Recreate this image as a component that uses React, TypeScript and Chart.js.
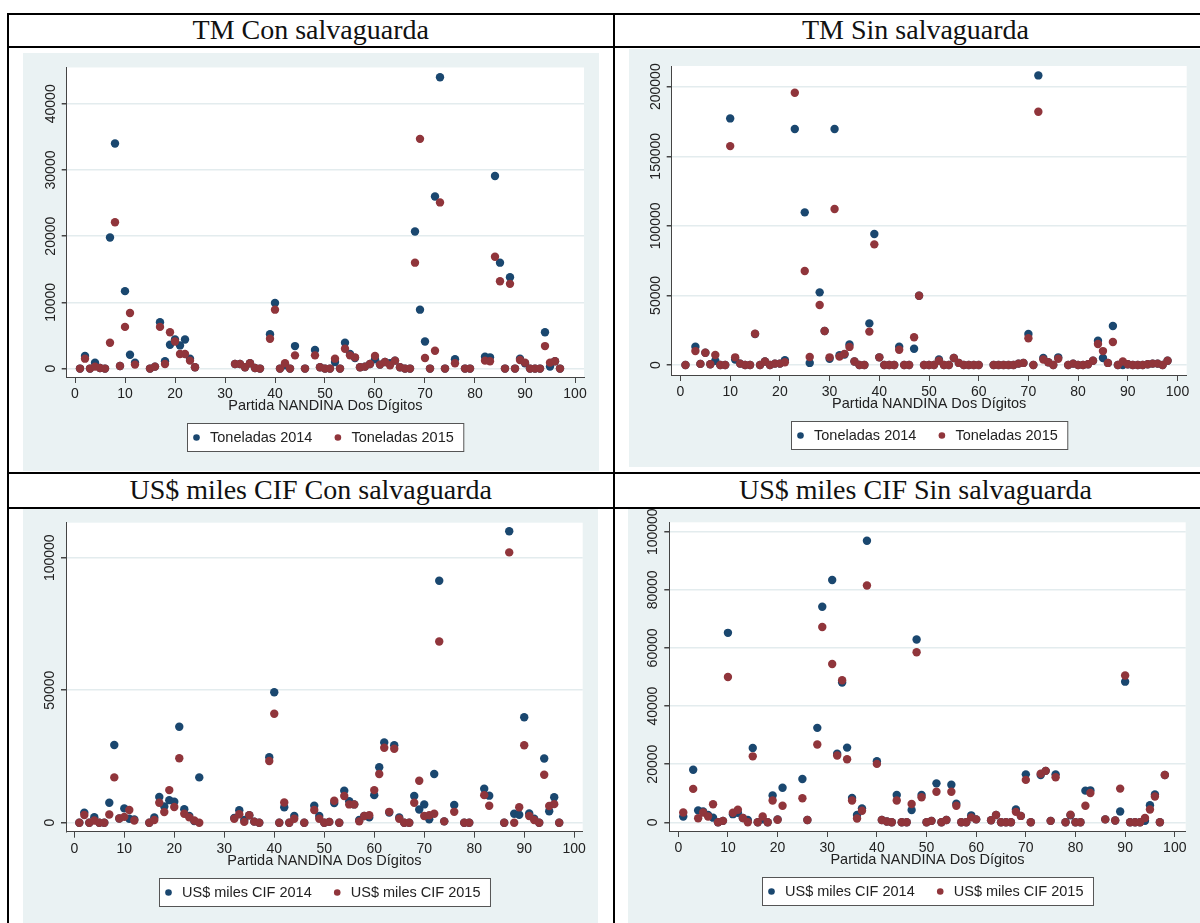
import React, { useEffect, useRef } from "react";
import { Chart, registerables } from "chart.js";

Chart.register(...registerables);

const _ = null;

// Partidas NANDINA (dos dígitos)
const chapters = [
  1, 2, 3, 4, 5, 6, 7, 8, 9, 10,
  11, 12, 13, 14, 15, 16, 17, 18, 19, 20,
  21, 22, 23, 24, 25, 26, 27, 28, 29, 30,
  31, 32, 33, 34, 35, 36, 37, 38, 39, 40,
  41, 42, 43, 44, 45, 46, 47, 48, 49, 50,
  51, 52, 53, 54, 55, 56, 57, 58, 59, 60,
  61, 62, 63, 64, 65, 66, 67, 68, 69, 70,
  71, 72, 73, 74, 75, 76, 77, 78, 79, 80,
  81, 82, 83, 84, 85, 86, 87, 88, 89, 90,
  91, 92, 93, 94, 95, 96, 97, 98,
];

const xTicks = [0, 10, 20, 30, 40, 50, 60, 70, 80, 90, 100];

// TM Con salvaguarda
const tmConTon2014 = [
  0, 1900, 0, 900, 100, 0, 19800, 34000, 400, 11700,
  2100, 900, _, _, 0, 300, 7000, 1100, 3600, 4400,
  3500, 4400, 1500, 200, _, _, _, _, _, _,
  _, 700, 700, 200, 800, 100, 0, _, 5200, 9900,
  0, 500, 0, 3400, _, 0, _, 2800, 200, 0,
  0, 1000, 0, 3900, 2200, 1600, 200, 300, 700, 1400,
  600, 1000, 800, 1200, 200, 0, 0, 20700, 8900, 4100,
  0, 26000, 44000, 0, _, 1400, _, 0, 0, _,
  _, 1800, 1700, 29100, 16000, 0, 13800, 0, 1500, 800,
  0, 0, 0, 5500, 300, 1100, 0, _,
];
const tmConTon2015 = [
  0, 1500, 0, 300, 100, 0, 3900, 22100, 400, 6300,
  8400, 600, _, _, 0, 300, 6300, 700, 5500, 4100,
  2200, 2200, 1200, 200, _, _, _, _, _, _,
  _, 700, 700, 200, 800, 100, 0, _, 4500, 8900,
  0, 800, 0, 2000, _, 0, _, 2000, 200, 0,
  0, 1500, 0, 3000, 2000, 1700, 200, 300, 700, 1900,
  600, 1000, 500, 1200, 200, 0, 0, 16000, 34700, 1600,
  0, 2700, 25100, 0, _, 800, _, 0, 0, _,
  _, 1200, 1100, 16900, 13200, 0, 12800, 0, 1300, 900,
  0, 0, 0, 3400, 900, 1100, 0, _,
];
const tmConYTicks = [0, 10000, 20000, 30000, 40000];

// TM Sin salvaguarda
const tmSinTon2014 = [
  0, _, 13200, 800, 8800, 500, 3000, 0, 0, 177200,
  4000, 1000, 0, 0, 22300, 0, 2500, 0, 1000, 1000,
  3500, _, 169600, _, 109700, 1500, _, 52200, 24400, 4500,
  169600, 7000, 7500, 14800, 2500, 0, 0, 29900, 94100, 5500,
  0, 0, 0, 13200, 0, 0, 11700, 49800, 0, 0,
  0, 4000, 0, 0, 5000, 1500, 0, 0, 0, 0,
  _, _, 0, 0, 0, 0, 0, 1000, 1500, 22300,
  0, 208100, 5000, 2000, 0, 5500, _, 0, 1000, 0,
  0, 500, 3000, 17500, 5000, 1500, 28000, 0, 0, 500,
  0, 0, 0, 500, 1000, 1000, 0, 3000,
];
const tmSinTon2015 = [
  0, _, 10000, 800, 8800, 500, 7200, 0, 0, 157300,
  5500, 1000, 0, 0, 22500, 0, 2500, 0, 1000, 1000,
  2000, _, 195700, _, 67500, 5700, _, 43100, 24400, 5500,
  112100, 6000, 8000, 13000, 2500, 0, 0, 24000, 86700, 5500,
  0, 0, 0, 11000, 0, 0, 19900, 49800, 0, 0,
  0, 3000, 0, 0, 5000, 1500, 0, 0, 0, 0,
  _, _, 0, 0, 0, 0, 0, 1000, 1500, 19200,
  0, 182000, 4000, 2000, 0, 4500, _, 0, 1000, 0,
  0, 500, 3000, 15100, 10000, 1500, 16500, 0, 2500, 500,
  0, 0, 0, 500, 1000, 1000, 0, 3000,
];
const tmSinYTicks = [0, 50000, 100000, 150000, 200000];

// US$ miles CIF Con salvaguarda
const usdCon2014 = [
  0, 3800, 0, 2100, 0, 0, 7500, 29300, 1600, 5400,
  1500, 1200, _, _, 0, 2000, 9700, 6100, 8500, 7900,
  36200, 5100, 2500, 600, 17100, _, _, _, _, _,
  _, 1800, 4700, 1000, 2800, 400, 0, _, 24700, 49200,
  0, 5800, 0, 2500, _, 0, _, 6400, 2500, 0,
  300, 7400, 0, 12100, 8100, 6900, 1000, 2500, 2000, 10400,
  20900, 30300, 3800, 29200, 2000, 0, 0, 10100, 5000, 6900,
  1300, 18400, 91300, 500, _, 6700, _, 0, 0, _,
  _, 12800, 10200, _, _, 0, 110000, 3400, 3000, 39800,
  3500, 1500, 0, 24200, 4300, 9600, 0, _,
];
const usdCon2015 = [
  0, 2900, 0, 800, 0, 0, 3100, 17100, 1600, 2200,
  4800, 800, _, _, 0, 1000, 7500, 4000, 12300, 5900,
  24300, 3400, 2000, 800, 0, _, _, _, _, _,
  _, 1500, 3200, 300, 2800, 400, 0, _, 23300, 41100,
  0, 7600, 0, 1500, _, 0, _, 4800, 1500, 0,
  300, 8300, 0, 10100, 6900, 6900, 500, 2500, 2800, 12300,
  18400, 28300, 4100, 27900, 1500, 0, 0, 7500, 15800, 2500,
  2800, 3400, 68400, 500, _, 4100, _, 0, 0, _,
  _, 10400, 6400, _, _, 0, 102000, 0, 5800, 29200,
  2500, 1000, 0, 18100, 6300, 7000, 0, _,
];
const usdConYTicks = [0, 50000, 100000];

// US$ miles CIF Sin salvaguarda
const usdSin2014 = [
  2000, _, 18100, 4100, 3700, 2500, 1600, 0, 500, 65200,
  2800, 3300, 1500, 800, 25600, 0, 1000, 0, 9200, 1000,
  11900, _, _, _, 14900, 800, _, 32500, 74200, _,
  83400, 23600, 48100, 25700, 8400, 2500, 4800, 96900, _, 21000,
  800, 300, 0, 9400, 0, 0, 4200, 62900, 9400, 0,
  500, 13400, 0, 800, 12900, 6400, 0, 0, 2400, 1000,
  _, _, 700, 2500, 0, 0, 0, 4400, 2200, 16500,
  0, _, 16300, 17700, 500, 16500, _, 0, 2400, 0,
  0, 10900, 11000, _, _, 1000, _, 600, 3700, 48400,
  0, 0, 0, 500, 5900, 9600, 0, 16300,
];
const usdSin2015 = [
  3400, _, 11500, 1400, 3400, 2000, 6200, 0, 500, 50000,
  3300, 4300, 1500, 0, 22700, 0, 2000, 0, 7500, 900,
  5700, _, _, _, 8300, 800, _, 26800, 67200, _,
  54500, 23000, 48900, 21700, 7500, 1300, 4000, 81500, _, 20100,
  800, 300, 0, 7500, 0, 0, 6300, 58500, 8600, 0,
  500, 10500, 0, 800, 10500, 5700, 0, 0, 1700, 1000,
  _, _, 700, 2500, 0, 0, 0, 3600, 2200, 14600,
  0, _, 16700, 17700, 500, 15500, _, 0, 2600, 0,
  0, 5700, 10100, _, _, 1000, _, 600, 11600, 50500,
  0, 0, 0, 1500, 4400, 8900, 0, 16300,
];
const usdSinYTicks = [0, 20000, 40000, 60000, 80000, 100000];

const headers = [
  "TM Con salvaguarda",
  "TM Sin salvaguarda",
  "US$ miles CIF Con salvaguarda",
  "US$ miles CIF Sin salvaguarda",
];
const tonLabels = ["Toneladas 2014", "Toneladas 2015"];
const usdLabels = ["US$ miles CIF 2014", "US$ miles CIF 2015"];
const xTitle = "Partida NANDINA Dos Dígitos";

const BLUE = "#1a476f";
const RED = "#90353b";
const BG = "#eaf2f3";
const SANS = "'Liberation Sans', Arial, sans-serif";
const SERIF = "'Liberation Serif', 'Times New Roman', serif";
const Y_W = 30;
const X_H = 38;

type Area = { l: number; t: number; r: number; b: number };
type PanelProps = {
  left: number;
  top: number;
  width: number;
  height: number;
  area: Area;
  yMin: number;
  yMax: number;
  yTicks: number[];
  xMin: number;
  xMax: number;
  labels: string[];
  s2014: (number | null)[];
  s2015: (number | null)[];
};

function toPoints(values: (number | null)[]) {
  const pts: { x: number; y: number }[] = [];
  chapters.forEach((c, i) => {
    const v = values[i];
    if (v !== null && v !== undefined) pts.push({ x: c, y: v });
  });
  return pts;
}

const decorPlugin = {
  id: "stataDecor",
  beforeDraw(chart: any) {
    const { ctx, chartArea: a } = chart;
    ctx.save();
    ctx.fillStyle = "#ffffff";
    ctx.fillRect(a.left, a.top, a.right - a.left, a.bottom - a.top);
    ctx.restore();
  },
  afterDraw(chart: any) {
    const { ctx, chartArea: a } = chart;
    const opts = chart.options.plugins.stataDecor || {};
    const yScale = chart.scales.y;
    // rotated y tick labels
    ctx.save();
    ctx.fillStyle = "#222";
    ctx.font = `14px ${SANS}`;
    ctx.textAlign = "center";
    ctx.textBaseline = "middle";
    (opts.yTicks || []).forEach((v: number) => {
      const py = yScale.getPixelForValue(v);
      ctx.save();
      ctx.translate(a.left - 16, py);
      ctx.rotate(-Math.PI / 2);
      ctx.fillText(String(v), 0, 0);
      ctx.restore();
    });
    ctx.restore();

    // legend box
    const labels: string[] = chart.data.datasets
      .slice()
      .sort((p: any, q: any) => (p.legendIndex ?? 0) - (q.legendIndex ?? 0))
      .map((d: any) => d.label);
    const colors = [BLUE, RED];
    ctx.save();
    ctx.font = `14.5px ${SANS}`;
    const w1 = ctx.measureText(labels[0]).width;
    const w2 = ctx.measureText(labels[1]).width;
    const padL = 9, dotText = 13.5, gap = 25.5, padR = 10;
    const total = padL + dotText + w1 + gap + dotText + w2 + padR;
    const cx = (a.left + a.right) / 2;
    const bx = Math.round(cx - total / 2) + 0.5;
    const by = Math.round(a.bottom + 46) + 0.5;
    const bh = 28;
    ctx.fillStyle = "#ffffff";
    ctx.fillRect(bx, by, total, bh);
    ctx.strokeStyle = "#555";
    ctx.lineWidth = 1;
    ctx.strokeRect(bx, by, total, bh);
    const my = by + bh / 2;
    let x = bx + padL;
    [w1, w2].forEach((w, i) => {
      ctx.fillStyle = colors[i];
      ctx.beginPath();
      ctx.arc(x, my, 3.3, 0, Math.PI * 2);
      ctx.fill();
      ctx.fillStyle = "#222";
      ctx.textAlign = "left";
      ctx.textBaseline = "middle";
      ctx.fillText(labels[i], x + dotText, my + 0.5);
      x += dotText + w + gap;
    });
    ctx.restore();
  },
};

function ScatterPanel(p: PanelProps) {
  const ref = useRef<HTMLCanvasElement | null>(null);
  useEffect(() => {
    if (!ref.current) return;
    const chart = new Chart(ref.current, {
      type: "scatter",
      data: {
        datasets: [
          {
            label: p.labels[0],
            legendIndex: 0,
            data: toPoints(p.s2014),
            backgroundColor: BLUE,
            pointBackgroundColor: BLUE,
            pointBorderWidth: 0,
            pointRadius: 4.2,
            order: 1,
          } as any,
          {
            label: p.labels[1],
            legendIndex: 1,
            data: toPoints(p.s2015),
            backgroundColor: RED,
            pointBackgroundColor: RED,
            pointBorderWidth: 0,
            pointRadius: 4.2,
            order: 0,
          } as any,
        ],
      },
      options: {
        animation: false,
        responsive: false,
        maintainAspectRatio: false,
        events: [],
        layout: {
          padding: {
            left: p.area.l - Y_W,
            top: p.area.t,
            right: p.width - p.area.r,
            bottom: p.height - p.area.b - X_H,
          },
        },
        plugins: {
          legend: { display: false },
          tooltip: { enabled: false },
          stataDecor: { yTicks: p.yTicks },
        } as any,
        scales: {
          x: {
            type: "linear",
            min: p.xMin,
            max: p.xMax,
            afterBuildTicks: (s: any) => {
              s.ticks = xTicks.map((v) => ({ value: v }));
            },
            afterFit: (s: any) => {
              s.height = X_H;
            },
            ticks: {
              font: { family: SANS, size: 14 },
              color: "#222",
              padding: 3,
              maxRotation: 0,
              minRotation: 0,
              autoSkip: false,
            },
            grid: {
              drawOnChartArea: false,
              drawTicks: true,
              tickLength: 6,
              tickColor: "#444",
              color: "#444",
              lineWidth: 1,
            },
            border: { display: true, color: "#444", width: 1 },
            title: {
              display: true,
              text: xTitle,
              font: { family: SANS, size: 14.5 },
              color: "#222",
              padding: { top: 0, bottom: 0 },
            },
          },
          y: {
            type: "linear",
            min: p.yMin,
            max: p.yMax,
            afterBuildTicks: (s: any) => {
              s.ticks = p.yTicks.map((v) => ({ value: v }));
            },
            afterFit: (s: any) => {
              s.width = Y_W;
            },
            ticks: { display: false },
            grid: {
              drawOnChartArea: true,
              drawTicks: true,
              tickLength: 5,
              color: "#e3ecee",
              tickColor: "#444",
              lineWidth: 1.5,
            },
            border: { display: true, color: "#444", width: 1 },
          },
        },
      } as any,
      plugins: [decorPlugin],
    });
    return () => chart.destroy();
  }, []);
  return (
    <canvas
      ref={ref}
      width={p.width}
      height={p.height}
      style={{
        position: "absolute",
        left: p.left,
        top: p.top,
        width: p.width,
        height: p.height,
        background: BG,
      }}
    />
  );
}

const line = (left: number, top: number, width: number, height: number) => (
  <div
    style={{
      position: "absolute",
      left,
      top,
      width,
      height,
      background: "#000",
    }}
  />
);

const headerStyle = (left: number, top: number, width: number, height: number): React.CSSProperties => ({
  position: "absolute",
  left,
  top,
  width,
  height,
  display: "flex",
  alignItems: "center",
  justifyContent: "center",
  fontFamily: SERIF,
  fontSize: 28,
  color: "#111",
  whiteSpace: "nowrap",
});

export default function App() {
  return (
    <div
      style={{
        position: "absolute",
        left: 0,
        top: 0,
        width: 1200,
        height: 923,
        overflow: "hidden",
        background: "#fff",
      }}
    >
      <div style={headerStyle(8.5, 14.5, 604.5, 31.5)}>{headers[0]}</div>
      <div style={headerStyle(615, 14.5, 601, 31.5)}>{headers[1]}</div>
      <div style={headerStyle(8.5, 474, 604.5, 32.5)}>{headers[2]}</div>
      <div style={headerStyle(615, 474, 601, 32.5)}>{headers[3]}</div>

      <ScatterPanel
        left={23}
        top={53}
        width={576}
        height={418}
        area={{ l: 43.7, t: 14.5, r: 561, b: 324 }}
        yMin={-1270}
        yMax={45480}
        yTicks={tmConYTicks}
        xMin={-1.66}
        xMax={101.8}
        labels={tonLabels}
        s2014={tmConTon2014}
        s2015={tmConTon2015}
      />
      <ScatterPanel
        left={629}
        top={49}
        width={571}
        height={418}
        area={{ l: 42.7, t: 17, r: 557.7, b: 326 }}
        yMin={-7190}
        yMax={214870}
        yTicks={tmSinYTicks}
        xMin={-1.77}
        xMax={101.85}
        labels={tonLabels}
        s2014={tmSinTon2014}
        s2015={tmSinTon2015}
      />
      <ScatterPanel
        left={23}
        top={508}
        width={575}
        height={415}
        area={{ l: 43, t: 14.7, r: 559.7, b: 323.7 }}
        yMin={-3400}
        yMax={113210}
        yTicks={usdConYTicks}
        xMin={-1.66}
        xMax={101.7}
        labels={usdLabels}
        s2014={usdCon2014}
        s2015={usdCon2015}
      />
      <ScatterPanel
        left={628}
        top={508}
        width={572}
        height={415}
        area={{ l: 41.3, t: 14.3, r: 557.7, b: 323 }}
        yMin={-2990}
        yMax={103235}
        yTicks={usdSinYTicks}
        xMin={-1.81}
        xMax={102.2}
        labels={usdLabels}
        s2014={usdSin2014}
        s2015={usdSin2015}
      />

      {line(6.5, 12.5, 1200, 2)}
      {line(6.5, 12.5, 2, 920)}
      {line(613, 12.5, 2, 920)}
      {line(6.5, 46.3, 1200, 2)}
      {line(6.5, 471.7, 1200, 2)}
      {line(6.5, 506.5, 1200, 2)}
    </div>
  );
}
